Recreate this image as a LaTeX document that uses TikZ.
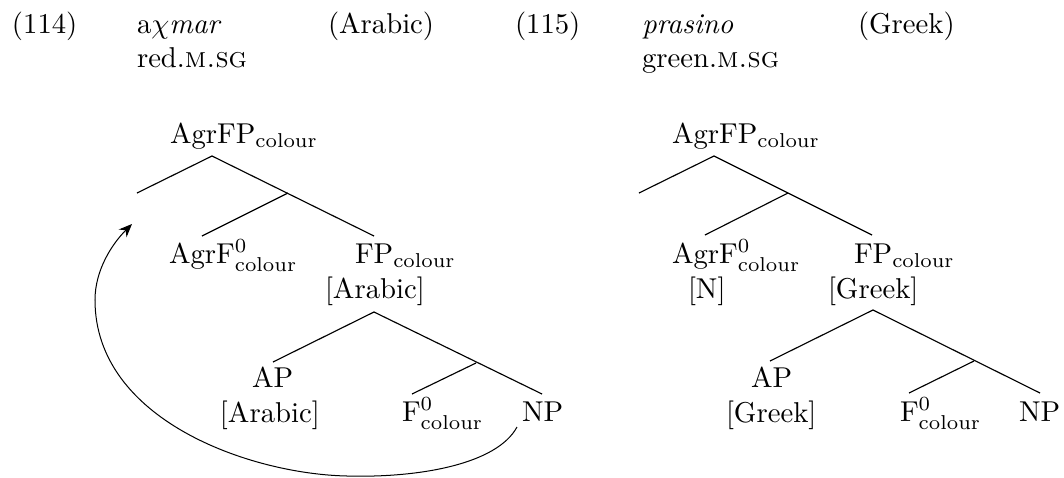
\documentclass[tikz,border=0pt]{standalone}
\usetikzlibrary{arrows.meta}
\begin{document}
\begin{tikzpicture}[x=0.3484pt,y=-0.3484pt,
  lbl/.style={anchor=base west,inner sep=0pt,outer sep=0pt},
  branch/.style={line width=0.4pt},
  move/.style={line width=0.35pt,-{Stealth[length=4.6pt,width=3.8pt]}}]
\useasboundingbox (0,0) rectangle (1064,477);
% header
\node[lbl] (n114) at (12,33) {(114)};
\node[lbl] (w114) at (137,33) {a$\chi$\textit{mar}};
\node[lbl] (l114) at (328,33) {(Arabic)};
\node[lbl] (g114) at (137,67) {red.\textsc{m.sg}};
\node[lbl] (n115) at (515,33) {(115)};
\node[lbl] (w115) at (642,33) {\textit{prasino}};
\node[lbl] (l115) at (858,33) {(Greek)};
\node[lbl] (g115) at (642,67) {green.\textsc{m.sg}};
% left tree
\node[lbl] (Aroot) at (170,143) {AgrFP$_{\mathrm{colour}}$};
\node[lbl] (Aagr) at (169,263) {AgrF$^0_{\mathrm{colour}}$};
\node[lbl] (Afp) at (355,263) {FP$_{\mathrm{colour}}$};
\node[lbl] (Afpf) at (325,298) {[Arabic]};
\node[lbl] (Aap) at (252,387) {AP};
\node[lbl] (Aapf) at (220,422) {[Arabic]};
\node[lbl] (Af) at (402,421) {F$^0_{\mathrm{colour}}$};
\node[lbl] (Anp) at (522,421) {NP};
\coordinate (Aa) at (212,156);
\coordinate (Aspec) at (137,193);
\coordinate (Am) at (288,193);
\coordinate (Aagrt) at (202,236);
\coordinate (Afpt) at (374,236);
\coordinate (Ab) at (374,312);
\coordinate (Aapt) at (273,362);
\coordinate (Am2) at (476,363);
\coordinate (Aft) at (412,394);
\coordinate (Anpt) at (542,394);
\draw[branch] (Aspec) -- (Aa) -- (Afpt);
\draw[branch] (Aagrt) -- (Am);
\draw[branch] (Aapt) -- (Ab) -- (Anpt);
\draw[branch] (Aft) -- (Am2);
% movement arrow
\coordinate (Cs) at (517,427);
\coordinate (Cb) at (347,476);
\coordinate (Cl) at (95,300);
\coordinate (Ce) at (132,224);
\draw[move] (Cs) .. controls (497,464) and (420,478) .. (Cb)
  .. controls (250,474) and (95,420) .. (Cl)
  .. controls (95,270) and (112,244) .. (Ce);
% right tree
\node[lbl] (Broot) at (672,143) {AgrFP$_{\mathrm{colour}}$};
\node[lbl] (Bagr) at (672,263) {AgrF$^0_{\mathrm{colour}}$};
\node[lbl] (Bagrf) at (688,298) {[N]};
\node[lbl] (Bfp) at (854,263) {FP$_{\mathrm{colour}}$};
\node[lbl] (Bfpf) at (828,298) {[Greek]};
\node[lbl] (Bap) at (751,387) {AP};
\node[lbl] (Bapf) at (726,422) {[Greek]};
\node[lbl] (Bf) at (900,421) {F$^0_{\mathrm{colour}}$};
\node[lbl] (Bnp) at (1019,421) {NP};
\coordinate (Ba) at (714,156);
\coordinate (Bspec) at (639,193);
\coordinate (Bm) at (788,193);
\coordinate (Bagrt) at (705,235);
\coordinate (Bfpt) at (872,235);
\coordinate (Bb) at (873,310);
\coordinate (Bapt) at (770,361);
\coordinate (Bm2) at (974,361);
\coordinate (Bft) at (909,393);
\coordinate (Bnpt) at (1040,393);
\draw[branch] (Bspec) -- (Ba) -- (Bfpt);
\draw[branch] (Bagrt) -- (Bm);
\draw[branch] (Bapt) -- (Bb) -- (Bnpt);
\draw[branch] (Bft) -- (Bm2);
\end{tikzpicture}
\end{document}
